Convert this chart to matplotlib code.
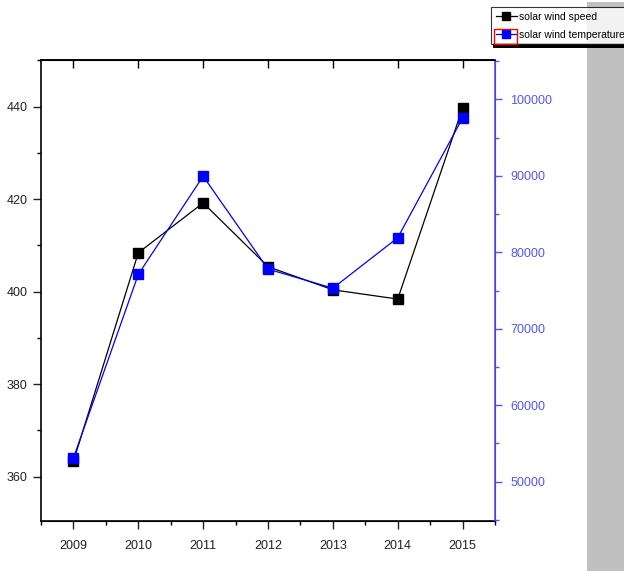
import matplotlib
matplotlib.use('Agg')
import matplotlib.pyplot as plt
from matplotlib.patches import Rectangle
from matplotlib.ticker import MultipleLocator

plt.rcParams['font.family'] = ['Liberation Sans', 'DejaVu Sans']

years = [2009, 2010, 2011, 2012, 2013, 2014, 2015]
wind_speed = [363.3, 408.4, 419.2, 405.4, 400.4, 398.4, 439.7]
wind_temp = [53100, 77100, 89950, 77800, 75300, 81900, 97550]

fig = plt.figure(figsize=(6.24, 5.71), dpi=100)
# grey panel at the right edge
fig.patches.append(Rectangle((587 / 624, 0), 37 / 624, 569 / 571, transform=fig.transFigure,
                             facecolor='#c0c0c0', edgecolor='none', zorder=0))

ax = fig.add_axes([41 / 624, 50 / 571, 454 / 624, 461 / 571])
ax2 = ax.twinx()

l1, = ax.plot(years, wind_speed, color='black', lw=0.9, marker='s', ms=6.5,
              mec='black', mfc='black', label='solar wind speed')
l2, = ax2.plot(years, wind_temp, color='blue', lw=0.9, marker='s', ms=6.5,
               mec='blue', mfc='blue', label='solar wind temperature')

ax.set_xlim(2008.5, 2015.5)
ax.set_ylim(350.4, 450.1)
ax2.set_ylim(44860, 105140)

ax.xaxis.set_major_locator(MultipleLocator(1))
ax.xaxis.set_minor_locator(MultipleLocator(0.5))
ax.yaxis.set_major_locator(MultipleLocator(20))
ax.yaxis.set_minor_locator(MultipleLocator(10))
ax2.yaxis.set_major_locator(MultipleLocator(10000))
ax2.yaxis.set_minor_locator(MultipleLocator(5000))

ax.tick_params(axis='both', which='major', direction='out', length=6, width=1, labelsize=9, colors='#222222')
ax.tick_params(axis='both', which='minor', direction='out', length=3, width=1)
ax.tick_params(axis='x', which='major', pad=8)
ax2.tick_params(axis='y', which='major', direction='out', length=5, width=1,
                colors='#5555ff', labelsize=9, pad=6)
ax2.tick_params(axis='y', which='minor', direction='out', length=3, width=1, colors='#5555ff')

# inward ticks on the top edge
top = ax.secondary_xaxis('top')
top.xaxis.set_major_locator(MultipleLocator(1))
top.tick_params(direction='in', length=6, width=1, labeltop=False)
top.spines['top'].set_linewidth(1.2)

for s in ['left', 'bottom', 'top']:
    ax.spines[s].set_linewidth(1.2)
ax2.spines['right'].set_color('#5555ff')
ax2.spines['right'].set_linewidth(1.2)
ax2.spines['left'].set_visible(False)

# legend box at the top right, with a dark shadow underneath
shadow = Rectangle((493 / 624, 523 / 571), 135 / 624, 5 / 571, transform=fig.transFigure,
                   facecolor='black', edgecolor='none', zorder=5)
fig.patches.append(shadow)
leg = fig.legend([l1, l2], ['solar wind speed', 'solar wind temperature'],
                 loc='upper left', bbox_to_anchor=(491 / 624, 564 / 571),
                 fontsize=7.5, frameon=True, fancybox=False, edgecolor='black',
                 handlelength=2.0, handletextpad=0.2, borderpad=0.45, labelspacing=0.75,
                 markerscale=0.8, borderaxespad=0)
leg.get_frame().set_linewidth(0.8)
leg.set_zorder(6)
# red highlight around the second legend handle
fig.patches.append(Rectangle((494 / 624, 527 / 571), 23 / 624, 15 / 571, transform=fig.transFigure,
                             facecolor='none', edgecolor='red', lw=1, zorder=7))

fig.savefig('out.png', dpi=100)
